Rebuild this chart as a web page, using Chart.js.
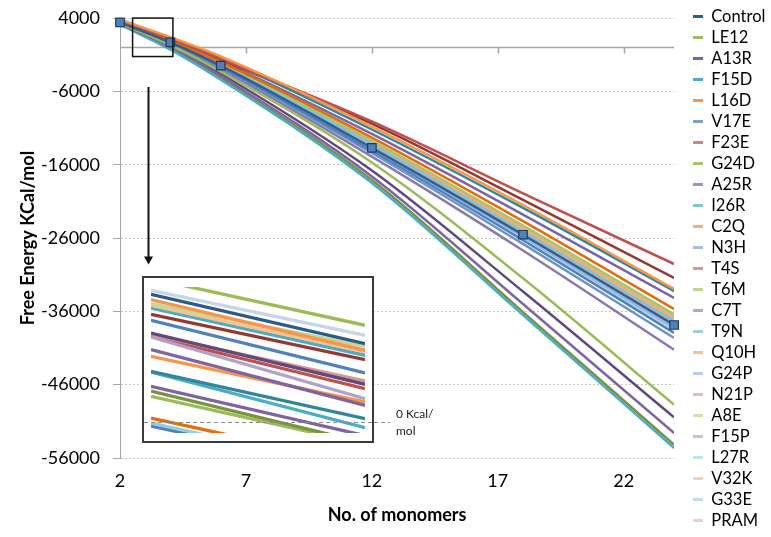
<!DOCTYPE html>
<html>
<head>
<meta charset="utf-8">
<script src="https://cdn.jsdelivr.net/npm/chart.js@4.4.0/dist/chart.umd.min.js"></script>
<style>
html,body{margin:0;padding:0;background:#fff;}
#wrap{position:relative;width:771px;height:537px;overflow:hidden;}
#main{position:absolute;left:0;top:0;}
#inset{position:absolute;left:142px;top:276px;width:232px;height:167px;box-sizing:border-box;border:2px solid #3a3a3a;background:#fff;}
#insetc{display:block;}
</style>
</head>
<body>
<div id="wrap">
  <canvas id="main" width="771" height="537" style="width:771px;height:537px"></canvas>
  <div id="inset"><canvas id="insetc" width="228" height="163" style="width:228px;height:163px"></canvas></div>
</div>
<script>
// ---------- data ----------
const monomers = [2, 4, 6, 12, 18, 24];
const xTickValues = [2, 7, 12, 17, 22];
const yTickValues = [4000, -6000, -16000, -26000, -36000, -46000, -56000];

const seriesNames = ['Control','LE12','A13R','F15D','L16D','V17E','F23E','G24D','A25R','I26R','C2Q','N3H',
  'T4S','T6M','C7T','T9N','Q10H','G24P','N21P','A8E','F15P','L27R','V32K','G33E','PRAM'];

const sControl = [3400, 670, -2500, -13700, -25550, -37860];
const sLE12 = [3300, 300, -3300, -15700, -31500, -48730];
const sA13R = [3200, 50, -3900, -17600, -35000, -52590];
const sF15D = [3100, -300, -4400, -18500, -36500, -54640];
const sL16D = [3800, 1400, -1240, -10800, -21500, -32950];
const sV17E = [3350, 600, -2650, -14100, -26300, -38950];
const sF23E = [3700, 1150, -1600, -10100, -19900, -29550];
const sG24D = [3150, -150, -4200, -18100, -36100, -54190];
const sA25R = [3250, 150, -3600, -16800, -33300, -50460];
const sI26R = [3750, 1200, -1500, -11200, -21900, -33230];
const sC2Q = [3600, 900, -2000, -12300, -23700, -35680];
const sN3H = [3350, 550, -2750, -14400, -26800, -39640];
const sT4S = [3650, 1100, -1700, -10400, -20800, -31450];
const sT6M = [3550, 850, -2100, -12700, -24300, -36400];
const sC7T = [3600, 950, -1900, -11800, -22800, -34180];
const sT9N = [3450, 700, -2350, -13200, -25100, -37300];
const sQ10H = [3500, 800, -2200, -12900, -24700, -36900];
const sG24P = [3400, 650, -2550, -13800, -25800, -38200];
const sN21P = [3450, 700, -2400, -13300, -25250, -37500];
const sA8E = [3550, 800, -2150, -12800, -24500, -36700];
const sF15P = [3300, 450, -3000, -14900, -27700, -41230];
const sL27R = [3400, 600, -2600, -13900, -25950, -38500];
const sV32K = [3500, 750, -2250, -13000, -24850, -37100];
const sG33E = [3450, 750, -2300, -13100, -25000, -37400];
const sPRAM = [3400, 700, -2450, -13400, -25400, -37700];

const seriesValues = [sControl, sLE12, sA13R, sF15D, sL16D, sV17E, sF23E, sG24D, sA25R, sI26R, sC2Q, sN3H,
  sT4S, sT6M, sC7T, sT9N, sQ10H, sG24P, sN21P, sA8E, sF15P, sL27R, sV32K, sG33E, sPRAM];

const lineColors = ['#2F5F94','#9BBB59','#8064A2','#4BACC6','#F79646','#4F81BD','#C0504D','#77933C','#604A7B','#31859C','#E46C0A','#6B93C8',
  '#953735','#A9C46C','#7B64A0','#7DC3D6','#F9A870','#98B5DA','#DDA3A2','#B9D08D','#8A78B0','#A4D4E2','#FBC49E','#B5C9E4','#E9C6C5'];
const legendColors = ['#2C5D8F','#9BBB59','#8064A2','#4BACC6','#F79646','#7F9FCF','#D28583','#A9C46C','#A093BF','#7FC6DA','#F9AE78','#A6BEDE',
  '#D99694','#BFD596','#B3A6CB','#9BD1E0','#FBBF94','#B9CDE5','#E6B9B8','#D2E2B5','#CCC1DA','#BFE2EB','#FCCFAD','#C9D8EB','#EFCFCE'];

// inset (magnified view): start / end values of each line, Kcal/mol relative to the 0 line
const insetStart = [1436, 1317, 1277, 1224, 1184, 1167, 1140, 1077, 1017, 890, 874, 850, 857, 724, 657, 507, 500, 357, 310, 257, 40, -10, -40];
const insetEnd   = [967, 867, 784, 717, 757, 700, 667, 624, 490, 377, 410, 234, 334, 167, 200, 34, -56, -136, -210, -223, -430, -483, -510];
const insetColors = ['#9BBB59','#C6D5EA','#2C5A8C','#F79646','#C3D69B','#FAC090','#4BACC6','#953735','#4F81BD','#604A7B','#D99694','#B3A2C7',
  '#C0504D','#8064A2','#F79646','#31859C','#4BACC6','#8064A2','#77933C','#9BBB59','#E46C0A','#93CDDD','#4F81BD'];
const insetRange = [-110, 1350];

// annotation positions (data units of the main chart)
const zoomBoxX = [2.5, 4.1];
const zoomBoxY = [4000, -1250];
const arrowX = 3.1;
const arrowY = [-5400, -29600];
const zeroLabel = ['0 Kcal/', 'mol'];

Chart.defaults.font.family = 'Lato';
Chart.defaults.color = '#000';
Chart.defaults.animation = false;

// ---------- inset chart ----------
const insetDashed = {
  id: 'insetDashed',
  afterDatasetsDraw(chart) {
    const {ctx, scales: {y}} = chart;
    const py = Math.round(y.getPixelForValue(0)) + 0.5;
    ctx.save();
    ctx.strokeStyle = '#8c8c8c'; ctx.lineWidth = 1; ctx.setLineDash([4, 3]);
    ctx.beginPath(); ctx.moveTo(0, py); ctx.lineTo(chart.width, py); ctx.stroke();
    ctx.restore();
  }
};
const insetChart = new Chart(document.getElementById('insetc'), {
  type: 'line',
  data: {
    datasets: insetStart.map((s, i) => ({
      data: [{x: 0, y: s}, {x: 1, y: insetEnd[i]}],
      borderColor: insetColors[i],
      borderWidth: 3.3,
      pointRadius: 0,
      tension: 0
    }))
  },
  options: {
    responsive: false,
    layout: {padding: {left: 7, right: 7, top: 9, bottom: 8}},
    plugins: {legend: {display: false}, tooltip: {enabled: false}},
    scales: {
      x: {type: 'linear', min: 0, max: 1, display: false},
      y: {type: 'linear', min: insetRange[0], max: insetRange[1], display: false}
    }
  },
  plugins: [insetDashed]
});

// ---------- main chart ----------
const annot = {
  id: 'annot',
  beforeDatasetsDraw(chart) {
    const {ctx, chartArea: a, scales: {x, y}} = chart;
    const y0 = Math.round(y.getPixelForValue(0)) + 0.5;
    ctx.save();
    ctx.strokeStyle = '#A6A6A6'; ctx.lineWidth = 1.5;
    ctx.beginPath(); ctx.moveTo(a.left, y0); ctx.lineTo(a.right, y0);
    xTickValues.slice(1).forEach(v => {
      const px = Math.round(x.getPixelForValue(v)) + 0.5;
      ctx.moveTo(px, y0); ctx.lineTo(px, y0 + 6);
    });
    ctx.stroke();
    ctx.restore();
  },
  afterDraw(chart) {
    const {ctx, scales: {x, y}} = chart;
    ctx.save();
    // zoom box
    const bx1 = x.getPixelForValue(zoomBoxX[0]), bx2 = x.getPixelForValue(zoomBoxX[1]);
    const by1 = y.getPixelForValue(zoomBoxY[0]), by2 = y.getPixelForValue(zoomBoxY[1]);
    ctx.strokeStyle = '#111'; ctx.lineWidth = 1.5;
    ctx.strokeRect(bx1, by1, bx2 - bx1, by2 - by1);
    // arrow
    const ax = Math.round(x.getPixelForValue(arrowX)) + 0.5;
    const ay1 = y.getPixelForValue(arrowY[0]), ay2 = y.getPixelForValue(arrowY[1]);
    ctx.lineWidth = 2;
    ctx.beginPath(); ctx.moveTo(ax, ay1); ctx.lineTo(ax, ay2 - 7); ctx.stroke();
    ctx.fillStyle = '#111';
    ctx.beginPath(); ctx.moveTo(ax - 4.5, ay2 - 8); ctx.lineTo(ax + 4.5, ay2 - 8); ctx.lineTo(ax, ay2); ctx.closePath(); ctx.fill();
    // 0 Kcal/mol dashed tail and label
    const insetEl = document.getElementById('inset');
    const top0 = insetEl.offsetTop + 2, left0 = insetEl.offsetLeft;
    const zy = Math.round(top0 + insetChart.scales.y.getPixelForValue(0)) + 0.5;
    const rightEdge = left0 + insetEl.offsetWidth;
    ctx.strokeStyle = '#8c8c8c'; ctx.lineWidth = 1; ctx.setLineDash([4, 3]);
    ctx.beginPath(); ctx.moveTo(rightEdge, zy); ctx.lineTo(rightEdge + 16, zy); ctx.stroke();
    ctx.setLineDash([]);
    ctx.fillStyle = '#222'; ctx.font = '12px Lato'; ctx.textBaseline = 'middle'; ctx.textAlign = 'left';
    ctx.fillText(zeroLabel[0], rightEdge + 22, zy - 8);
    ctx.fillText(zeroLabel[1], rightEdge + 22, zy + 9);
    ctx.restore();
  }
};

const LEGEND_LEFT = 688.5;
const legendShift = {
  id: 'legendShift',
  afterLayout(chart) {
    const lg = chart.legend;
    const dx = LEGEND_LEFT - lg.left;
    lg.left += dx; lg.right += dx;
  }
};

const datasets = seriesValues.map((vals, i) => ({
  label: seriesNames[i],
  data: monomers.map((m, j) => ({x: m, y: vals[j]})),
  borderColor: lineColors[i],
  backgroundColor: lineColors[i],
  borderWidth: 2.5,
  cubicInterpolationMode: 'monotone',
  pointRadius: i === 0 ? 6 : 0,
  pointStyle: 'rect',
  pointBackgroundColor: '#4F81BD',
  pointBorderColor: '#1F3A5F',
  pointBorderWidth: 1.2,
  clip: i === 0 ? 10 : undefined
}));

new Chart(document.getElementById('main'), {
  type: 'line',
  data: {datasets},
  options: {
    responsive: false,
    layout: {padding: {left: 0, right: 10, top: 0, bottom: 0}},
    plugins: {
      tooltip: {enabled: false},
      legend: {
        position: 'right',
        align: 'center',
        labels: {
          font: {size: 16.5},
          color: '#000',
          padding: 4.5,
          usePointStyle: true,
          pointStyleWidth: 10,
          generateLabels(chart) {
            return chart.data.datasets.map((ds, i) => ({
              text: ds.label,
              strokeStyle: legendColors[i],
              fillStyle: legendColors[i],
              lineWidth: 3,
              pointStyle: 'line',
              hidden: false,
              datasetIndex: i
            }));
          }
        }
      }
    },
    scales: {
      x: {
        type: 'linear', min: 2, max: 24,
        afterBuildTicks(axis) { axis.ticks = xTickValues.map(v => ({value: v})); },
        afterFit(axis) { axis.height = 79; },
        grid: {display: false, drawTicks: false},
        border: {display: false},
        ticks: {font: {size: 18}, color: '#000', padding: 12, autoSkip: false, maxRotation: 0},
        title: {display: true, text: 'No. of monomers', font: {size: 18, weight: 'bold'}, color: '#000', padding: {top: 0, bottom: 11}}
      },
      y: {
        type: 'linear', min: -56000, max: 4000,
        afterBuildTicks(axis) { axis.ticks = yTickValues.map(v => ({value: v})); },
        afterFit(axis) { axis.width = 120; },
        grid: {color: '#C4C4C4', lineWidth: 1, drawTicks: true, tickLength: 7, tickColor: '#A6A6A6', tickWidth: 1},
        border: {display: true, color: '#A6A6A6', width: 1, dash: [2, 2]},
        ticks: {font: {size: 18, lineHeight: 0.56}, color: '#000', padding: 13, callback: v => String(v)},
        title: {display: true, text: 'Free Energy KCal/mol', font: {size: 18, weight: 'bold'}, color: '#000', padding: {top: 17, bottom: 0}}
      }
    }
  },
  plugins: [annot, legendShift]
});
</script>
</body>
</html>
